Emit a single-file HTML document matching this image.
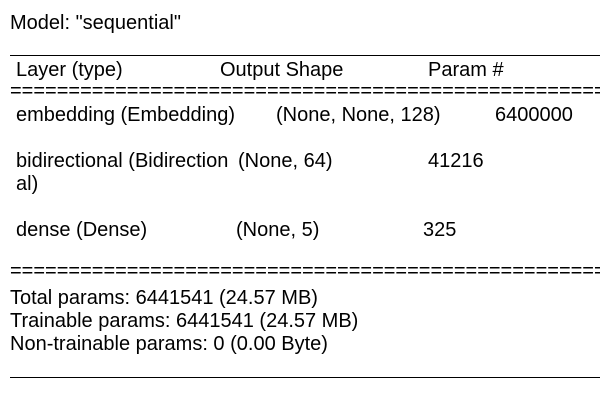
<!DOCTYPE html>
<html><head><style>
body{margin:0;width:600px;height:400px;background:#fff;overflow:hidden;position:relative;font-family:"Liberation Sans",Arial,sans-serif;font-size:20px;color:#000}
.t{position:absolute;line-height:22px;white-space:nowrap}
.eq{position:absolute;left:10px;width:590px;overflow:hidden;white-space:nowrap;line-height:22px}
.ln{position:absolute;left:10px;width:590px;height:1px;background:#000}
</style></head><body>
<div class="t" style="left:10px;top:12px">Model: "sequential"</div>
<div class="ln" style="top:55px"></div>
<div class="t" style="left:16px;top:59px">Layer (type)</div>
<div class="t" style="left:220px;top:59px">Output Shape</div>
<div class="t" style="left:428px;top:59px">Param #</div>
<div class="eq" style="top:80px">============================================================================</div>
<div class="t" style="left:16px;top:104px">embedding (Embedding)</div>
<div class="t" style="left:276px;top:104px">(None, None, 128)</div>
<div class="t" style="left:495px;top:104px">6400000</div>
<div class="t" style="left:16px;top:150px">bidirectional (Bidirection</div>
<div class="t" style="left:16px;top:173px">al)</div>
<div class="t" style="left:238px;top:150px">(None, 64)</div>
<div class="t" style="left:428px;top:150px">41216</div>
<div class="t" style="left:16px;top:219px">dense (Dense)</div>
<div class="t" style="left:236px;top:219px">(None, 5)</div>
<div class="t" style="left:423px;top:219px">325</div>
<div class="eq" style="top:260px">============================================================================</div>
<div class="t" style="left:10px;top:287px">Total params: 6441541 (24.57 MB)</div>
<div class="t" style="left:10px;top:310px">Trainable params: 6441541 (24.57 MB)</div>
<div class="t" style="left:10px;top:333px">Non-trainable params: 0 (0.00 Byte)</div>
<div class="ln" style="top:377px"></div>
</body></html>
